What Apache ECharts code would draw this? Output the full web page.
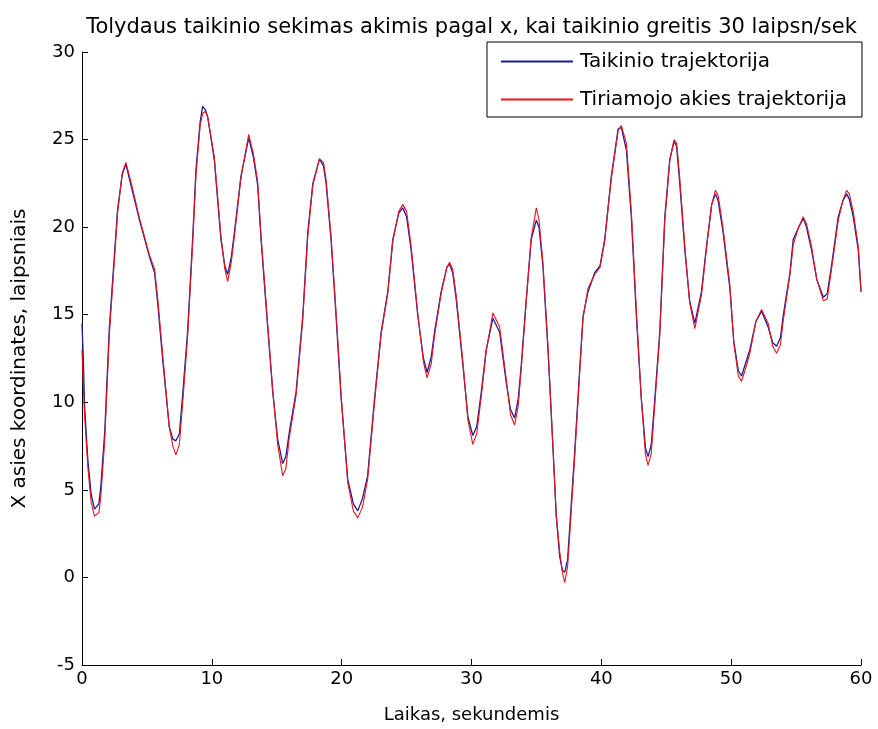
<!DOCTYPE html>
<html>
<head>
<meta charset="utf-8">
<script src="https://cdn.jsdelivr.net/npm/echarts@6/dist/echarts.min.js"></script>
<style>
html,body{margin:0;padding:0;background:#fff;}
#chart{width:878px;height:729px;}
</style>
</head>
<body>
<div id="chart"></div>
<script>
const titleText = 'Tolydaus taikinio sekimas akimis pagal x, kai taikinio greitis 30 laipsn/sek';
const xName = 'Laikas, sekundemis';
const yName = 'X asies koordinates, laipsniais';
const seriesNames = ['Taikinio trajektorija', 'Tiriamojo akies trajektorija'];

const time = [
  0, 0.1, 0.2, 0.45, 0.7, 0.96, 1.3, 1.45, 1.75, 2.1, 2.74, 3.1, 3.38, 3.8, 4.43, 5.2, 5.59, 5.85, 6.23, 6.72,
  7.0, 7.23, 7.5, 7.75, 8.13, 8.52, 8.78, 9.1, 9.29, 9.5, 9.68, 10.19, 10.7, 11.0, 11.22, 11.5, 11.74, 12.24, 12.84, 13.2,
  13.53, 13.79, 14.3, 14.69, 15.07, 15.46, 15.7, 15.97, 16.49, 17.0, 17.39, 17.78, 18.29, 18.6, 18.8, 19.18, 19.57, 19.96, 20.47, 20.9,
  21.24, 21.6, 22.0, 22.53, 23.04, 23.55, 23.94, 24.4, 24.71, 25.0, 25.35, 25.87, 26.3, 26.58, 26.9, 27.15, 27.66, 28.1, 28.31, 28.55,
  28.82, 29.34, 29.72, 30.1, 30.4, 30.75, 31.13, 31.65, 32.17, 32.68, 33.0, 33.32, 33.6, 33.83, 34.22, 34.6, 34.99, 35.2, 35.5, 35.89,
  36.28, 36.53, 36.79, 37.0, 37.18, 37.4, 37.57, 37.96, 38.35, 38.59, 38.97, 39.49, 39.9, 40.26, 40.77, 41.29, 41.54, 41.93, 42.31, 42.7,
  43.08, 43.4, 43.6, 43.85, 44.12, 44.5, 44.89, 45.27, 45.6, 45.8, 46.04, 46.43, 46.8, 47.2, 47.71, 48.1, 48.5, 48.79, 49.0, 49.38,
  49.9, 50.2, 50.55, 50.8, 51.1, 51.44, 51.9, 52.34, 52.85, 53.2, 53.5, 53.8, 54.0, 54.53, 54.78, 55.2, 55.55, 55.8, 56.19, 56.6,
  57.1, 57.4, 57.73, 58.25, 58.6, 58.89, 59.1, 59.4, 59.79, 60
];

const target = [
  14.5, 12.5, 9.8, 6.7, 4.8, 3.9, 4.2, 5.2, 8.3, 14.2, 21.0, 23.0, 23.6, 22.3, 20.4, 18.3, 17.4, 15.5, 12.3, 8.6,
  7.9, 7.8, 8.2, 10.4, 14.0, 19.3, 23.3, 26.0, 26.9, 26.7, 26.3, 23.85, 19.3, 17.8, 17.3, 18.3, 19.7, 22.9, 25.1, 24.0,
  22.4, 19.3, 14.3, 10.6, 7.9, 6.5, 6.9, 8.3, 10.6, 14.9, 19.7, 22.5, 23.9, 23.5, 22.5, 19.3, 14.9, 10.2, 5.6, 4.2,
  3.8, 4.5, 5.8, 10.2, 14.0, 16.3, 19.3, 20.8, 21.1, 20.6, 18.7, 14.9, 12.5, 11.7, 12.6, 14.0, 16.3, 17.7, 17.9, 17.4,
  15.9, 12.1, 9.2, 8.1, 8.6, 10.55, 13.0, 14.8, 14.0, 11.1, 9.6, 9.1, 10.2, 12.1, 15.9, 19.3, 20.4, 20.0, 17.8, 13.0,
  7.3, 3.5, 1.2, 0.4, 0.3, 1.0, 2.9, 7.3, 12.1, 14.9, 16.3, 17.4, 17.8, 19.3, 22.9, 25.6, 25.7, 24.4, 20.6, 14.9,
  10.2, 7.4, 6.9, 7.6, 10.2, 14.0, 20.6, 23.85, 24.9, 24.6, 22.5, 18.7, 15.8, 14.5, 16.3, 18.9, 21.3, 21.9, 21.5, 19.7,
  16.5, 13.5, 11.8, 11.5, 12.2, 13.0, 14.6, 15.2, 14.3, 13.4, 13.2, 13.7, 14.9, 17.4, 19.3, 20.0, 20.5, 20.0, 18.7, 17.0,
  16.0, 16.2, 17.8, 20.6, 21.5, 21.9, 21.6, 20.6, 18.7, 16.3
];

const eye = [
  13.0, 11.0, 9.2, 6.3, 4.3, 3.5, 3.7, 4.6, 7.8, 13.8, 20.8, 23.1, 23.7, 22.5, 20.5, 18.4, 17.6, 15.8, 12.6, 8.6,
  7.5, 7.0, 7.6, 9.9, 13.7, 19.0, 23.0, 25.8, 26.5, 26.6, 26.3, 24.0, 19.5, 17.6, 16.9, 18.0, 19.5, 22.8, 25.3, 24.2,
  22.6, 19.5, 14.5, 10.7, 7.6, 5.8, 6.2, 8.0, 10.4, 14.7, 19.5, 22.4, 23.9, 23.7, 22.7, 19.5, 15.1, 10.4, 5.4, 3.8,
  3.4, 4.0, 5.6, 10.0, 13.9, 16.2, 19.2, 20.9, 21.3, 20.9, 18.9, 15.0, 12.3, 11.4, 12.2, 13.8, 16.2, 17.7, 18.0, 17.6,
  16.1, 12.3, 9.0, 7.6, 8.2, 10.3, 12.9, 15.1, 14.3, 11.3, 9.3, 8.7, 9.8, 11.9, 15.8, 19.4, 21.1, 20.4, 18.0, 13.2,
  7.4, 3.5, 1.5, 0.3, -0.3, 0.6, 2.5, 7.0, 11.9, 14.8, 16.5, 17.3, 17.7, 19.2, 22.8, 25.5, 25.8, 24.8, 20.9, 15.2,
  10.2, 7.0, 6.4, 7.1, 9.9, 13.8, 20.4, 23.8, 25.0, 24.8, 22.8, 18.9, 15.7, 14.2, 16.1, 18.8, 21.3, 22.1, 21.8, 19.9,
  16.7, 13.4, 11.5, 11.2, 11.9, 12.8, 14.6, 15.3, 14.5, 13.2, 12.8, 13.3, 14.6, 17.3, 19.0, 20.0, 20.6, 20.2, 18.9, 17.0,
  15.8, 15.9, 17.6, 20.4, 21.5, 22.1, 21.9, 20.9, 18.9, 16.4
];

const xTicks = {min: 0, max: 60, step: 10};
const yTicks = {min: -5, max: 30, step: 5};

const zip = (a, b) => a.map((v, i) => [v, b[i]]);

const chart = echarts.init(document.getElementById('chart'), null, {renderer: 'canvas'});
const font = 'DejaVu Sans, Verdana, sans-serif';
const grid = {left: 82, top: 52, right: 17, bottom: 63};
const axisCommon = {
  axisLine: {show: true, onZero: false, lineStyle: {color: '#000', width: 1}},
  axisTick: {show: true, inside: true, length: 6, lineStyle: {color: '#000'}},
  splitLine: {show: false},
  axisLabel: {color: '#000', fontSize: 18, fontFamily: font},
  nameTextStyle: {color: '#000', fontSize: 18, fontFamily: font}
};
chart.setOption({
  animation: false,
  backgroundColor: '#fff',
  graphic: [{
    type: 'text',
    x: grid.left + (878 - grid.left - grid.right) / 2,
    y: 28,
    style: {
      text: titleText, textAlign: 'center', textVerticalAlign: 'middle',
      fontSize: 21, fontFamily: font, fill: '#000'
    }
  }],
  grid: grid,
  legend: {
    orient: 'vertical',
    left: 487, top: 42,
    padding: [7, 15, 5, 14],
    itemGap: 13,
    itemWidth: 72, itemHeight: 2,
    icon: 'rect',
    borderColor: '#000', borderWidth: 1, borderRadius: 0,
    backgroundColor: '#fff',
    textStyle: {color: '#000', fontSize: 20, fontFamily: font, padding: [0, 0, 0, 2], lineHeight: 25},
    data: seriesNames
  },
  xAxis: Object.assign({}, axisCommon, {
    type: 'value', min: xTicks.min, max: xTicks.max, interval: xTicks.step,
    name: xName, nameLocation: 'middle', nameGap: 41,
    axisLabel: Object.assign({}, axisCommon.axisLabel, {margin: 5})
  }),
  yAxis: Object.assign({}, axisCommon, {
    type: 'value', min: yTicks.min, max: yTicks.max, interval: yTicks.step,
    name: yName, nameLocation: 'middle', nameGap: 52,
    nameTextStyle: Object.assign({}, axisCommon.nameTextStyle, {fontSize: 20}),
    axisLabel: Object.assign({}, axisCommon.axisLabel, {margin: 7})
  }),
  series: [
    {name: seriesNames[0], type: 'line', symbol: 'none', data: zip(time, target),
     lineStyle: {color: '#1c1c96', width: 1.3}, itemStyle: {color: '#1c1c96'}},
    {name: seriesNames[1], type: 'line', symbol: 'none', data: zip(time, eye),
     lineStyle: {color: '#e8141e', width: 1.1}, itemStyle: {color: '#e8141e'}}
  ]
});
</script>
</body>
</html>
